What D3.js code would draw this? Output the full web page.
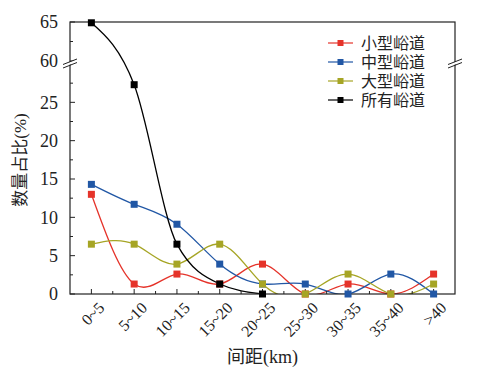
<!DOCTYPE html>
<html>
<head>
<meta charset="utf-8">
<script src="https://cdn.jsdelivr.net/npm/d3@7"></script>
<style>
  body { margin: 0; background: #fff; }
  text { font-family: "Liberation Serif", "Noto Sans CJK SC", serif; fill: #222; }
</style>
</head>
<body>
<div id="chart"></div>
<script>
const categories = ['0~5', '5~10', '10~15', '15~20', '20~25', '25~30', '30~35', '35~40', '>40'];
const smallVals = [13.0, 1.3, 2.6, 1.3, 3.9, 0, 1.3, 0, 2.6];
const mediumVals = [14.3, 11.7, 9.1, 3.9, 1.3, 1.3, 0, 2.6, 0];
const largeVals = [6.5, 6.5, 3.9, 6.5, 1.3, 0, 2.6, 0, 1.3];
const allVals = [64.9, 27.3, 6.5, 1.3, 0];
const lowTicks = [0, 5, 10, 15, 20, 25];
const highTicks = [60, 65];
const seriesNames = ['小型峪道', '中型峪道', '大型峪道', '所有峪道'];
const colors = ['#e5332a', '#2157a5', '#a6a525', '#000000'];

const W = 501, H = 380;
const plot = {left: 70, right: 455, top: 22, bottom: 294};

const svg = d3.select('#chart').append('svg')
    .attr('width', W).attr('height', H);

svg.append('clipPath').attr('id', 'clip')
    .append('rect')
    .attr('x', plot.left).attr('y', plot.top - 5)
    .attr('width', plot.right - plot.left).attr('height', plot.bottom - plot.top + 5);

const x = d3.scalePoint().domain(categories).range([plot.left, plot.right]).padding(0.5);
const yLow = d3.scaleLinear().domain([0, 30]).range([plot.bottom, 64]);
const yHigh = d3.scaleLinear().domain([60, 65]).range([61, plot.top]);
const y = v => v >= 60 ? yHigh(v) : yLow(v);

// series
const allSeries = [smallVals, mediumVals, largeVals, allVals];
const makeLine = curve => d3.line()
    .x((d, i) => x(categories[i]))
    .y(d => y(d))
    .curve(curve);

const lines = svg.append('g').attr('clip-path', 'url(#clip)');
allSeries.forEach((vals, k) => {
    // the steep "all" curve reads better without spline overshoot
    const curve = k === 3 ? d3.curveMonotoneX : d3.curveNatural;
    lines.append('path')
        .datum(vals)
        .attr('d', makeLine(curve))
        .attr('fill', 'none')
        .attr('stroke', colors[k])
        .attr('stroke-width', 1.3);
});

// frame
svg.append('rect')
    .attr('x', plot.left).attr('y', plot.top)
    .attr('width', plot.right - plot.left).attr('height', plot.bottom - plot.top)
    .attr('fill', 'none').attr('stroke', '#222').attr('stroke-width', 1.2);

// y ticks (inward)
const yMajor = lowTicks.map(v => yLow(v)).concat(highTicks.map(v => yHigh(v)));
const yMinor = [2.5, 7.5, 12.5, 17.5, 22.5, 27.5].map(v => yLow(v)).concat([yHigh(62.5)]);
yMajor.forEach(p => svg.append('line').attr('x1', plot.left).attr('x2', plot.left + 5)
    .attr('y1', p).attr('y2', p).attr('stroke', '#222'));
yMinor.forEach(p => svg.append('line').attr('x1', plot.left).attr('x2', plot.left + 3)
    .attr('y1', p).attr('y2', p).attr('stroke', '#222'));

svg.selectAll('.ylab')
    .data(lowTicks.map(v => ({v, p: yLow(v)})).concat(highTicks.map(v => ({v, p: yHigh(v)}))))
    .enter().append('text')
    .attr('x', 58).attr('y', d => d.p).attr('dy', '0.35em')
    .attr('text-anchor', 'end').style('font-size', '18px')
    .text(d => d.v);

// x ticks (inward)
const step = x.step();
categories.forEach(c => {
    svg.append('line').attr('x1', x(c)).attr('x2', x(c))
        .attr('y1', plot.bottom).attr('y2', plot.bottom - 5).attr('stroke', '#222');
});
categories.slice(0, -1).forEach(c => {
    const p = x(c) + step / 2;
    svg.append('line').attr('x1', p).attr('x2', p)
        .attr('y1', plot.bottom).attr('y2', plot.bottom - 3).attr('stroke', '#222');
});

svg.selectAll('.xlab')
    .data(categories)
    .enter().append('text')
    .attr('transform', d => `translate(${x(d) + 6},${plot.bottom + 7}) rotate(-45)`)
    .attr('text-anchor', 'end').attr('dy', '0.7em')
    .style('font-size', '16px')
    .text(d => d);

// axis break marks
[plot.left, plot.right].forEach(ax => {
    const yb = 62;
    svg.append('polygon')
        .attr('points', `${ax - 7},${yb + 3} ${ax + 7},${yb - 3} ${ax + 7},${yb - 0.5} ${ax - 7},${yb + 5.5}`)
        .attr('fill', '#fff');
    svg.append('line').attr('x1', ax - 7).attr('y1', yb + 2.5).attr('x2', ax + 7).attr('y2', yb - 3)
        .attr('stroke', '#222');
    svg.append('line').attr('x1', ax - 7).attr('y1', yb + 6).attr('x2', ax + 7).attr('y2', yb + 0.5)
        .attr('stroke', '#222');
});

// markers
allSeries.forEach((vals, k) => {
    svg.selectAll('.m' + k)
        .data(vals)
        .enter().append('rect')
        .attr('x', (d, i) => x(categories[i]) - 3.5)
        .attr('y', d => y(d) - 3.5)
        .attr('width', 7).attr('height', 7)
        .attr('fill', colors[k]);
});

// legend
seriesNames.forEach((name, k) => {
    const ly = 43 + k * 19;
    svg.append('line').attr('x1', 328).attr('x2', 353).attr('y1', ly).attr('y2', ly)
        .attr('stroke', colors[k]).attr('stroke-width', 1.2);
    svg.append('rect').attr('x', 337.5).attr('y', ly - 3).attr('width', 6).attr('height', 6)
        .attr('fill', colors[k]);
    svg.append('text').attr('x', 361).attr('y', ly).attr('dy', '0.35em')
        .style('font-size', '16px').text(name);
});

// axis titles
svg.append('text')
    .attr('transform', `translate(20,${(plot.top + plot.bottom) / 2 + 2}) rotate(-90)`)
    .attr('text-anchor', 'middle').attr('dy', '0.35em')
    .style('font-size', '17px')
    .text('数量占比(%)');

svg.append('text')
    .attr('x', (plot.left + plot.right) / 2).attr('y', 357)
    .attr('text-anchor', 'middle').attr('dy', '0.35em')
    .style('font-size', '18px')
    .text('间距(km)');
</script>
</body>
</html>
